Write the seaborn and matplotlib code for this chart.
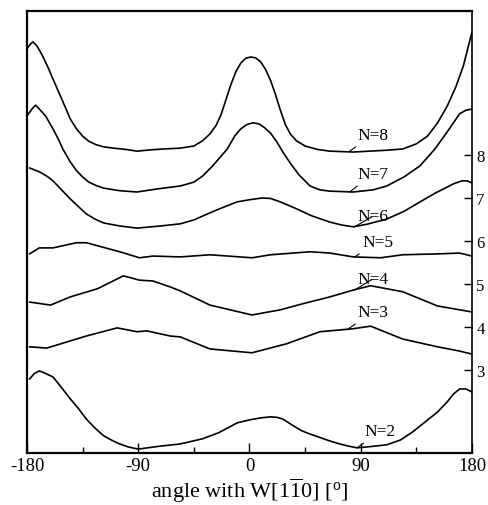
import numpy as np
import pandas as pd
import matplotlib
matplotlib.use('Agg')
import matplotlib.pyplot as plt
import seaborn as sns

# angle (deg) / intensity (offset units), one list per layer count
ang8 = [-180, -177, -175, -172, -168, -163, -159, -154, -149, -145, -140, -135, -130, -124, -118, -110,
        -100, -91, -80, -70, -56, -45, -38, -32, -27, -23, -19, -15, -11, -7, -3, 1, 5, 9, 13, 17, 21,
        25, 29, 33, 38, 45, 55, 65, 84, 110, 124, 135, 144, 152, 160, 167, 173, 180]
val8 = [10.48, 10.60, 10.64, 10.55, 10.35, 10.05, 9.78, 9.45, 9.12, 8.85, 8.62, 8.45, 8.33, 8.25, 8.20, 8.17,
        8.14, 8.10, 8.13, 8.15, 8.17, 8.22, 8.34, 8.50, 8.70, 8.95, 9.30, 9.65, 9.95, 10.15, 10.26, 10.29, 10.27,
        10.18, 10.00, 9.75, 9.42, 9.05, 8.72, 8.50, 8.34, 8.22, 8.14, 8.10, 8.08, 8.12, 8.15, 8.27, 8.45, 8.75,
        9.15, 9.60, 10.08, 10.87]

ang7 = [-180, -176, -173, -170, -165, -159, -155, -151, -145, -140, -135, -130, -124, -118, -105, -91, -75,
        -56, -45, -38, -30, -24, -18, -12, -7, -2, 3, 8, 12, 17, 22, 27, 33, 40, 49, 57, 65, 84, 100, 111,
        125, 138, 150, 160, 166, 170, 175, 180]
val7 = [8.92, 9.08, 9.17, 9.08, 8.92, 8.62, 8.40, 8.15, 7.85, 7.65, 7.50, 7.38, 7.30, 7.24, 7.18, 7.15, 7.22,
        7.29, 7.38, 7.52, 7.75, 7.95, 8.15, 8.45, 8.62, 8.72, 8.76, 8.73, 8.65, 8.52, 8.32, 8.08, 7.82, 7.55,
        7.29, 7.20, 7.17, 7.15, 7.20, 7.29, 7.50, 7.76, 8.15, 8.55, 8.80, 8.97, 9.05, 9.08]

ang6 = [-178, -170, -164, -159, -152, -145, -138, -132, -125, -118, -105, -91, -72, -56, -45, -38, -25, -10,
        0, 10, 17, 25, 38, 50, 65, 75, 84, 95, 111, 125, 138, 150, 165, 172, 176, 180]
val6 = [7.71, 7.62, 7.52, 7.41, 7.20, 6.99, 6.80, 6.64, 6.52, 6.43, 6.36, 6.31, 6.36, 6.41, 6.50, 6.59, 6.75,
        6.92, 6.97, 7.01, 7.00, 6.92, 6.76, 6.60, 6.45, 6.38, 6.34, 6.40, 6.52, 6.70, 6.92, 7.12, 7.34, 7.41,
        7.41, 7.36]

ang5 = [-178, -170, -159, -140, -132, -105, -89, -78, -56, -32, 2, 17, 49, 65, 84, 106, 124, 152, 170, 180]
val5 = [5.71, 5.85, 5.85, 5.97, 5.97, 5.76, 5.62, 5.66, 5.64, 5.69, 5.62, 5.69, 5.76, 5.73, 5.64, 5.62, 5.69,
        5.71, 5.73, 5.66]

ang4 = [-178, -161, -145, -123, -102, -89, -78, -64, -56, -32, 2, 25, 43, 65, 84, 98, 124, 152, 176, 180]
val4 = [4.59, 4.52, 4.71, 4.90, 5.20, 5.10, 5.08, 4.94, 4.85, 4.52, 4.29, 4.41, 4.55, 4.71, 4.87, 4.97, 4.83,
        4.50, 4.38, 4.36]

ang3 = [-178, -164, -132, -107, -91, -83, -72, -64, -56, -32, 2, 30, 57, 84, 98, 124, 152, 170, 180]
val3 = [3.55, 3.52, 3.80, 3.99, 3.90, 3.92, 3.85, 3.80, 3.78, 3.50, 3.41, 3.62, 3.90, 3.97, 4.03, 3.73, 3.55,
        3.45, 3.38]

ang2 = [-178, -174, -170, -165, -159, -152, -145, -138, -132, -125, -118, -111, -105, -98, -90, -80, -72,
        -56, -38, -25, -10, 0, 10, 17, 22, 27, 35, 42, 49, 57, 65, 73, 80, 87, 95, 111, 122, 132, 142, 152,
        160, 165, 170, 175, 180]
val2 = [2.80, 2.93, 2.99, 2.93, 2.85, 2.60, 2.34, 2.10, 1.87, 1.66, 1.48, 1.37, 1.29, 1.22, 1.17, 1.21, 1.24,
        1.29, 1.41, 1.55, 1.78, 1.85, 1.90, 1.92, 1.91, 1.87, 1.72, 1.60, 1.52, 1.44, 1.36, 1.29, 1.24, 1.20,
        1.22, 1.27, 1.38, 1.57, 1.80, 2.03, 2.27, 2.45, 2.57, 2.57, 2.50]

curves = {8: (ang8, val8), 7: (ang7, val7), 6: (ang6, val6), 5: (ang5, val5),
          4: (ang4, val4), 3: (ang3, val3), 2: (ang2, val2)}

# label text positions and the curve points the leader lines go to
label_text = {8: (100, 8.48), 7: (100, 7.57), 6: (100, 6.59), 5: (104, 5.99),
              4: (100, 5.13), 3: (100, 4.36), 2: (106, 1.59)}
label_point = {8: (81, 8.10), 7: (81, 7.15), 6: (85, 6.34), 5: (85, 5.64),
               4: (85, 4.87), 3: (80, 3.97), 2: (87, 1.20)}

y_ticks = [3, 4, 5, 6, 7, 8]
x_ticks = [-180, -90, 0, 90, 180]
x_minor = [-135, -45, 45, 135]

sns.set_theme(style='white')
plt.rcParams['font.family'] = ['Liberation Serif', 'DejaVu Serif']
plt.rcParams['mathtext.fontset'] = 'custom'
plt.rcParams['mathtext.rm'] = 'Liberation Serif'
plt.rcParams['mathtext.it'] = 'Liberation Serif:italic'

fig = plt.figure(figsize=(4.89, 5.06), dpi=100)
ax = fig.add_axes([0.0552, 0.1028, 0.9100, 0.8735])

for n, (a, v) in curves.items():
    sns.lineplot(x=a, y=v, color='black', lw=1.2, ax=ax, sort=False, estimator=None)

for n in curves:
    ax.annotate(f'N={n}', xy=label_point[n], xytext=label_text[n],
                ha='center', va='center', fontsize=12.5, color='black',
                arrowprops=dict(arrowstyle='-', color='black', lw=0.8,
                                shrinkA=1, shrinkB=0))

ax.set_xlim(-180, 180)
ax.set_ylim(1.08, 11.36)
ax.set_xticks(x_ticks)
ax.set_xticklabels([str(t) for t in x_ticks])
ax.set_xticks(x_minor, minor=True)
ax.tick_params(axis='x', which='major', bottom=True, direction='in', length=7,
               width=1, color='black', labelsize=13.5, pad=3, labelcolor='black')
ax.tick_params(axis='x', which='minor', bottom=True, direction='in', length=4,
               width=1, color='black')

ax.yaxis.tick_right()
ax.set_yticks(y_ticks)
ax.set_yticklabels([str(t) for t in y_ticks])
ax.tick_params(axis='y', which='major', right=True, left=False, direction='in',
               length=6, width=1, color='black', labelsize=12, pad=3,
               labelcolor='black')

for side in ['left', 'bottom', 'top']:
    ax.spines[side].set_linewidth(1.6)
    ax.spines[side].set_color('black')
ax.spines['right'].set_linewidth(1.2)
ax.spines['right'].set_color('black')

ax.set_ylabel('')
ax.set_xlabel(r'angle with W[1$\overline{\mathrm{1}}$0] [$^{\mathrm{o}}$]',
              fontsize=16, color='black', labelpad=1)

fig.savefig('out.png', dpi=100)
